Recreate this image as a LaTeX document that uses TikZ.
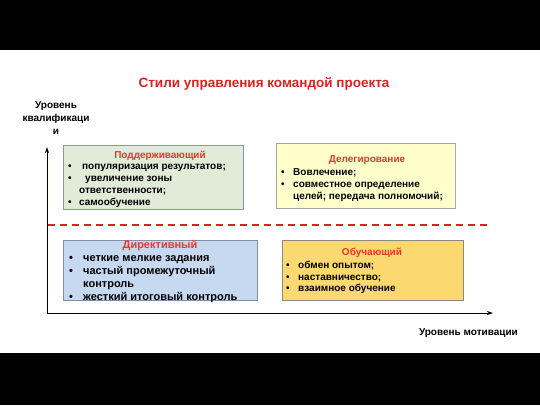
\documentclass[tikz,border=0pt]{standalone}
\usepackage{fontspec}
\setmainfont{Liberation Sans}
\usetikzlibrary{arrows.meta}
\definecolor{ttlred}{HTML}{E02020}
\definecolor{boxred}{HTML}{E8382C}
\definecolor{fillA}{HTML}{E2EAD8}
\definecolor{fillB}{HTML}{FFFFCC}
\definecolor{fillC}{HTML}{C6D9F0}
\definecolor{fillD}{HTML}{FCD870}
\definecolor{edgeA}{HTML}{8497B0}
\definecolor{edgeB}{HTML}{A6A6A6}
\definecolor{edgeC}{HTML}{7F8FA8}
\definecolor{edgeD}{HTML}{8C8A78}
\tikzset{
  txt/.style={font=\fontsize{10}{12}\selectfont\bfseries, anchor=base west, inner sep=0pt},
  txtbig/.style={font=\fontsize{11}{13}\selectfont\bfseries, anchor=base west, inner sep=0pt},
  ttl/.style={font=\fontsize{10}{12}\selectfont\bfseries, anchor=base, inner sep=0pt, text=boxred},
  quad/.style={draw=#1, line width=0.8pt},
  axis/.style={line width=1pt, -{Stealth[length=6pt,width=4pt]}},
}
\begin{document}
\begin{tikzpicture}[x=1pt,y=-1pt]
\useasboundingbox (0,0) rectangle (540,405);
\fill[black] (0,0) rectangle (540,50);
\fill[black] (0,353) rectangle (540,405);

\node[anchor=base, inner sep=0pt, font=\fontsize{13.5}{15}\selectfont\bfseries, text=ttlred] (title) at (264,87) {Стили управления командой проекта};

% axis labels
\node[anchor=base, inner sep=0pt, font=\fontsize{10}{12}\selectfont\bfseries] (yl1) at (56,108.5) {Уровень};
\node[anchor=base, inner sep=0pt, font=\fontsize{10}{12}\selectfont\bfseries] (yl2) at (56,121) {квалификаци};
\node[anchor=base, inner sep=0pt, font=\fontsize{10}{12}\selectfont\bfseries] (yl3) at (56,134) {и};
\node[anchor=base east, inner sep=0pt, font=\fontsize{10}{12}\selectfont\bfseries] (xl) at (518,335) {Уровень мотивации};

% axes
\coordinate (O) at (47,313);
\coordinate (Ytip) at (47,147);
\coordinate (Xtip) at (493,313);
\draw[axis] (O) -- (Ytip);
\draw[axis] (O) -- (Xtip);

% dashed separator
\coordinate (dL) at (48,225);
\coordinate (dR) at (487,225);
\draw[draw=ttlred, line width=1.5pt, dash pattern=on 7pt off 5pt] (dL) -- (dR);

% Box 1
\draw[quad=edgeA, fill=fillA] (63,145) rectangle (243,209);
\node[ttl] (b1t) at (160,158.5) {Поддерживающий};
\node[txt] (b1b1) at (68,169) {•};
\node[txt] (b1l1) at (82,169) {популяризация результатов;};
\node[txt] (b1b2) at (68,181) {•};
\node[txt] (b1l2) at (85,181) {увеличение зоны};
\node[txt] (b1l3) at (79,193) {ответственности;};
\node[txt] (b1b3) at (68,205) {•};
\node[txt] (b1l4) at (79,205) {самообучение};

% Box 2
\draw[quad=edgeB, fill=fillB] (276,143) rectangle (455,208);
\node[ttl] (b2t) at (367,162.5) {Делегирование};
\node[txt] (b2b1) at (281,175.5) {•};
\node[txt] (b2l1) at (293,175.5) {Вовлечение;};
\node[txt] (b2b2) at (281,187.5) {•};
\node[txt] (b2l2) at (293,187.5) {совместное определение};
\node[txt] (b2l3) at (293,199.5) {целей; передача полномочий;};

% Box 3
\draw[quad=edgeC, fill=fillC] (63,240) rectangle (257,300);
\node[ttl, font=\fontsize{11}{13}\selectfont\bfseries] (b3t) at (160,248) {Директивный};
\node[txtbig] (b3b1) at (69,261) {•};
\node[txtbig] (b3l1) at (83,261) {четкие мелкие задания};
\node[txtbig] (b3b2) at (69,274) {•};
\node[txtbig] (b3l2) at (83,274) {частый промежуточный};
\node[txtbig] (b3l3) at (83,287.5) {контроль};
\node[txtbig] (b3b3) at (69,300.5) {•};
\node[txtbig] (b3l4) at (83,300.5) {жесткий итоговый контроль};

% Box 4
\draw[quad=edgeD, fill=fillD] (282,240) rectangle (463,300);
\node[ttl] (b4t) at (372,255.5) {Обучающий};
\node[txt] (b4b1) at (286,268) {•};
\node[txt] (b4l1) at (298,268) {обмен опытом;};
\node[txt] (b4b2) at (286,280) {•};
\node[txt] (b4l2) at (298,280) {наставничество;};
\node[txt] (b4b3) at (286,291.5) {•};
\node[txt] (b4l3) at (298,291.5) {взаимное обучение};
\end{tikzpicture}
\end{document}
